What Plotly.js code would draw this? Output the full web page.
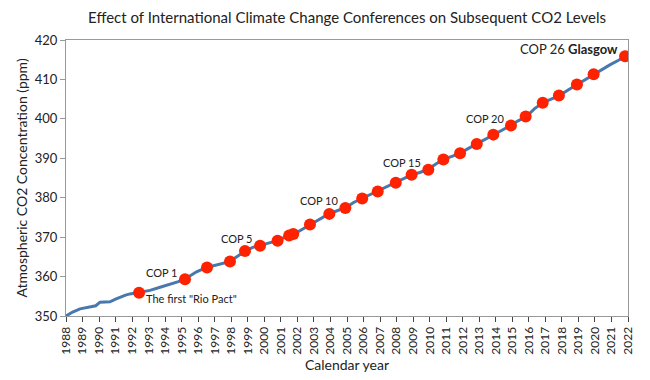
<!DOCTYPE html>
<html>
<head>
<meta charset="utf-8">
<script src="https://cdn.plot.ly/plotly-3.0.1.min.js"></script>
<style>html,body{margin:0;padding:0;background:#fff;}#chart{width:650px;height:380px;}</style>
</head>
<body>
<div id="chart"></div>
<script>
// CO2 concentration line (year, ppm)
const lineYears = [1988.0,1988.4,1988.85,1989.45,1989.8,1990.06,1990.66,1991.0,1991.27,1991.6,1991.87,1992.48,1993.08,1993.69,1994.29,1994.8,1995.2,1995.9,1996.5,1997.2,1997.9,1998.4,1998.85,1999.3,1999.75,2000.3,2000.8,2001.5,2001.85,2002.3,2002.8,2003.4,2003.9,2004.4,2004.9,2005.4,2005.9,2006.4,2006.85,2007.4,2007.95,2008.4,2008.9,2009.4,2009.9,2010.4,2010.85,2011.35,2011.85,2012.35,2012.85,2013.35,2013.85,2014.4,2014.9,2015.35,2015.85,2016.35,2016.85,2017.35,2017.85,2018.4,2018.9,2019.4,2019.9,2020.4,2020.9,2021.4,2021.85,2022.0];
const linePpm = [350.0,351.0,351.8,352.3,352.6,353.5,353.6,354.3,354.8,355.3,355.6,356.1,356.5,357.3,358.0,358.7,359.4,361.2,362.3,363.0,363.8,365.2,366.5,367.4,367.9,368.5,369.1,370.5,370.9,372.0,373.2,374.6,375.9,376.7,377.4,378.8,379.8,380.7,381.6,382.7,383.8,384.9,385.8,386.4,387.2,388.6,389.7,390.5,391.3,392.5,393.6,394.8,396.0,397.2,398.3,399.5,400.6,402.6,404.1,405.0,405.9,407.4,408.7,409.9,411.3,412.6,413.7,414.8,415.9,416.2];

// Conference markers (Rio 1992 + COP 1..26)
const confYears = [1992.42,1995.2,1996.53,1997.92,1998.83,1999.74,2000.8,2001.5,2001.75,2002.76,2003.93,2004.9,2005.92,2006.86,2007.95,2008.91,2009.92,2010.83,2011.84,2012.85,2013.85,2014.92,2015.81,2016.84,2017.82,2018.91,2019.92,2021.82];
const confPpm = [355.9,359.3,362.3,363.8,366.5,367.8,369.1,370.4,370.8,373.2,375.9,377.4,379.8,381.6,383.8,385.8,387.1,389.7,391.3,393.6,396.0,398.3,400.6,404.1,405.9,408.7,411.3,415.9];

// Labels
const labelIdx = [1,5,11,16,21,27];
const labelText = ["COP 1","COP 5","COP 10","COP 15","COP 20","COP 26 <b>Glasgow</b>"];
const rioIdx = 0;
const rioText = 'The first "Rio Pact"';

const tickYears = [];
for (let y = 1988; y <= 2022; y++) tickYears.push(y);

const FONT = "Lato, 'Open Sans', sans-serif";

const annotations = labelIdx.map((idx, i) => ({
  x: confYears[idx], y: confPpm[idx], xref: 'x', yref: 'y',
  text: labelText[i], showarrow: false,
  xanchor: 'right', yanchor: 'middle', xshift: -5, yshift: 7,
  font: {family: FONT, size: i === labelIdx.length - 1 ? 13 : 11, color: '#222'}
}));
annotations.push({
  x: confYears[rioIdx], y: confPpm[rioIdx], xref: 'x', yref: 'y',
  text: rioText, showarrow: false,
  xanchor: 'left', yanchor: 'middle', xshift: 5, yshift: -6,
  font: {family: FONT, size: 11, color: '#222'}
});

const traces = [
  {x: lineYears, y: linePpm, type: 'scatter', mode: 'lines',
   line: {color: '#4878ac', width: 3}, hoverinfo: 'skip'},
  {x: confYears, y: confPpm, type: 'scatter', mode: 'markers',
   marker: {color: '#ff2200', size: 12}}
];

const layout = {
  width: 650, height: 380,
  margin: {l: 66, r: 22, t: 40, b: 64},
  paper_bgcolor: '#fff', plot_bgcolor: '#fff',
  showlegend: false,
  font: {family: FONT, color: '#222'},
  title: {text: 'Effect of International Climate Change Conferences on Subsequent CO2 Levels',
          x: 0.534, xanchor: 'center', y: 0.953, yanchor: 'middle',
          font: {family: FONT, size: 15, color: '#222'}},
  xaxis: {range: [1988, 2022], tickvals: tickYears, ticktext: tickYears.map(String),
          tickangle: -90, tickfont: {size: 12, family: FONT},
          ticks: 'outside', ticklen: 5, tickcolor: '#444',
          showgrid: false, zeroline: false,
          showline: true, linecolor: '#999', linewidth: 1, mirror: true,
          title: {text: 'Calendar year', font: {size: 14, family: FONT}, standoff: 6}},
  yaxis: {range: [350, 420], dtick: 10, tickfont: {size: 13, family: FONT},
          ticks: 'outside', ticklen: 5, tickcolor: '#999',
          showgrid: false, zeroline: false,
          showline: true, linecolor: '#999', linewidth: 1, mirror: true,
          title: {text: 'Atmospheric CO2 Concentration (ppm)', font: {size: 14, family: FONT}, standoff: 3}},
  annotations: annotations
};

Plotly.newPlot('chart', traces, layout, {displayModeBar: false, staticPlot: true});
</script>
</body>
</html>
